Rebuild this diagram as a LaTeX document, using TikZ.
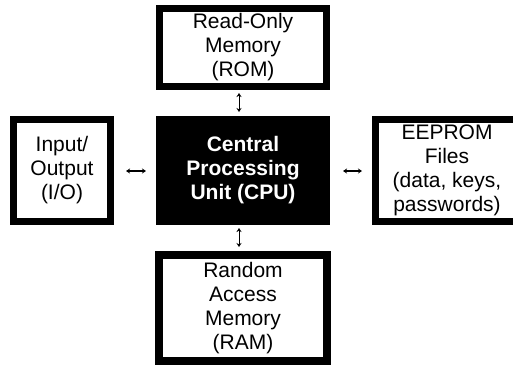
\documentclass[tikz,border=0pt]{standalone}
\usepackage{fontspec}
\setmainfont{Liberation Sans}
\usepackage{tikz}
\usetikzlibrary{arrows.meta,positioning}

\tikzset{
    unitbox/.style={draw=black,fill=white,line width=6.7pt,align=center,
        inner sep=0pt,font=\fontsize{21}{24}\selectfont},
    cpubox/.style={unitbox,fill=black,text=white,font=\fontsize{21}{24}\selectfont\bfseries},
    bus/.style={{Stealth[length=4pt,width=5pt]}-{Stealth[length=4pt,width=5pt]},
        line width=0.6pt}
}

\begin{document}
\begin{tikzpicture}[x=1pt,y=-1pt]
\clip (0,0) rectangle (513,365);
\fill[white] (0,0) rectangle (513,365);

\node[unitbox,minimum width=167.3pt,minimum height=78.3pt] (rom) at (243,47.5)
    {Read-Only\\Memory\\(ROM)};
\node[cpubox,minimum width=167.3pt,minimum height=102.3pt] (cpu) at (243,170.5)
    {Central\\Processing\\Unit (CPU)};
\node[unitbox,minimum width=97.3pt,minimum height=102.3pt] (io) at (62,170.5)
    {Input/\\Output\\(I/O)};
\node[unitbox,minimum width=143.3pt,minimum height=102.3pt] (eeprom) at (447,170.5)
    {EEPROM\\Files\\(data, keys,\\passwords)};
\node[unitbox,line width=8pt,minimum width=168pt,minimum height=106pt] (ram) at (243,308)
    {Random\\Access\\Memory\\(RAM)};

\path[bus,shorten <=3pt,shorten >=4pt] ([xshift=-4pt]rom.south) edge ([xshift=-4pt]cpu.north);
\path[bus,shorten <=3pt,shorten >=4pt] ([xshift=-4pt]cpu.south) edge ([xshift=-4pt]ram.north);
\path[bus,line width=1.2pt,shorten <=12pt,shorten >=10pt] ([yshift=-0.5pt]io.east) edge ([yshift=-0.5pt]cpu.west);
\path[bus,line width=1.2pt,shorten <=13pt,shorten >=10pt] ([yshift=-0.5pt]cpu.east) edge ([yshift=-0.5pt]eeprom.west);
\end{tikzpicture}
\end{document}
